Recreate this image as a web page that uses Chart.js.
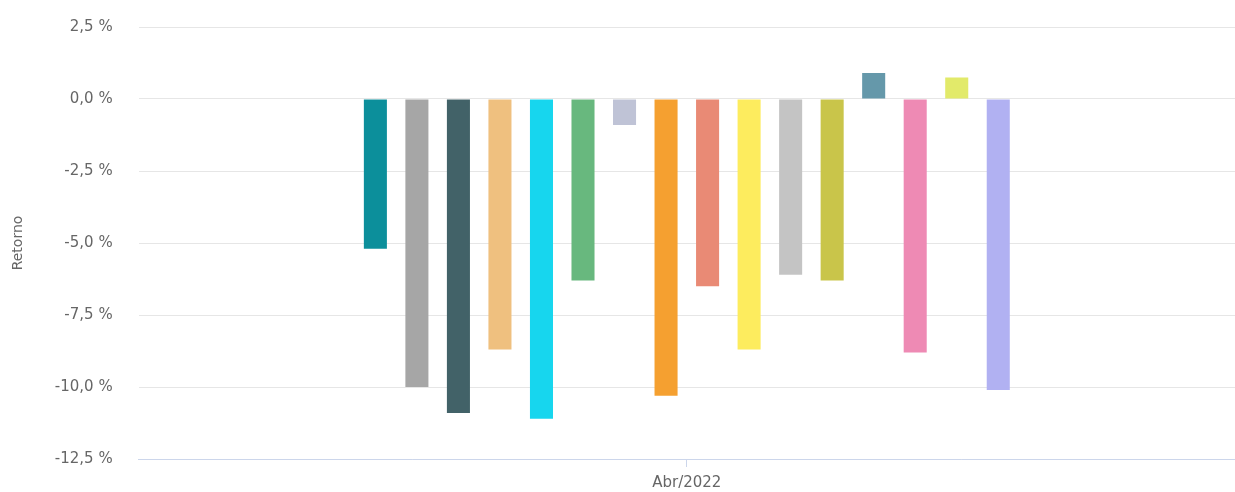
<!DOCTYPE html>
<html lang="pt-BR">
<head>
  <meta charset="UTF-8">
  <title>Retorno</title>
  <script src="https://cdn.jsdelivr.net/npm/chart.js@4/dist/chart.umd.min.js"></script>
  <style>
    body {
      margin: 0;
      background: #fff;
    }
    .chart-box {
      width: 1235px;
      height: 492px;
    }
  </style>
</head>
<body>
  <div class="chart-box">
    <canvas id="retornoChart"></canvas>
  </div>
  <script>
    // dados
    const categories = ['Abr/2022'];
    const seriesNames = ['Série 1', 'Série 2', 'Série 3', 'Série 4', 'Série 5', 'Série 6', 'Série 7', 'Série 8',
                         'Série 9', 'Série 10', 'Série 11', 'Série 12', 'Série 13', 'Série 14', 'Série 15', 'Série 16'];
    const returns = [-5.2, -10.0, -10.9, -8.7, -11.1, -6.3, -0.9, -10.3,
                     -6.5, -8.7, -6.1, -6.3, 0.9, -8.8, 0.75, -10.1];
    const yTicks = [2.5, 0, -2.5, -5, -7.5, -10, -12.5];

    const colors = ['#0c8f9b', '#a6a6a6', '#426268', '#efc07f', '#17d6ee', '#68b87e', '#bfc3d6', '#f5a030',
                    '#e98a75', '#fdec5e', '#c4c4c4', '#c9c54a', '#6598aa', '#ee8ab4', '#e2ea6a', '#b1b1f2'];

    const datasets = seriesNames.map((name, i) => ({
      label: name,
      data: [returns[i]],
      backgroundColor: colors[i],
      borderWidth: 0,
      categoryPercentage: 0.606,
      barPercentage: 0.555
    }));

    const txtFont = { family: 'DejaVu Sans', size: 15 };

    const ctx = document.getElementById('retornoChart').getContext('2d');
    new Chart(ctx, {
      type: 'bar',
      data: { labels: categories, datasets: datasets },
      options: {
        responsive: true,
        maintainAspectRatio: false,
        animation: false,
        layout: { padding: { top: 27, right: 0, left: 10, bottom: -7 } },
        plugins: {
          legend: { display: false },
          tooltip: { enabled: false }
        },
        scales: {
          x: {
            grid: {
              display: true,
              drawOnChartArea: false,
              drawTicks: true,
              tickLength: 8,
              offset: false,
              color: '#ccd6eb'
            },
            border: { display: true, color: '#ccd6eb', width: 1 },
            ticks: {
              color: '#666',
              font: txtFont,
              padding: 7
            }
          },
          y: {
            min: -12.5,
            max: 2.5,
            afterBuildTicks: axis => {
              axis.ticks = yTicks.map(v => ({ value: v }));
            },
            grid: {
              color: '#e6e6e6',
              drawTicks: true,
              tickLength: 26,
              tickColor: 'rgba(0,0,0,0)'
            },
            border: { display: false },
            ticks: {
              color: '#666',
              padding: 0,
              font: txtFont,
              callback: v => v.toFixed(1).replace('.', ',') + ' %'
            },
            title: {
              display: true,
              text: 'Retorno',
              color: '#666',
              font: { family: 'DejaVu Sans', size: 14 },
              padding: { top: 0, bottom: 28 }
            }
          }
        }
      }
    });
  </script>
</body>
</html>
